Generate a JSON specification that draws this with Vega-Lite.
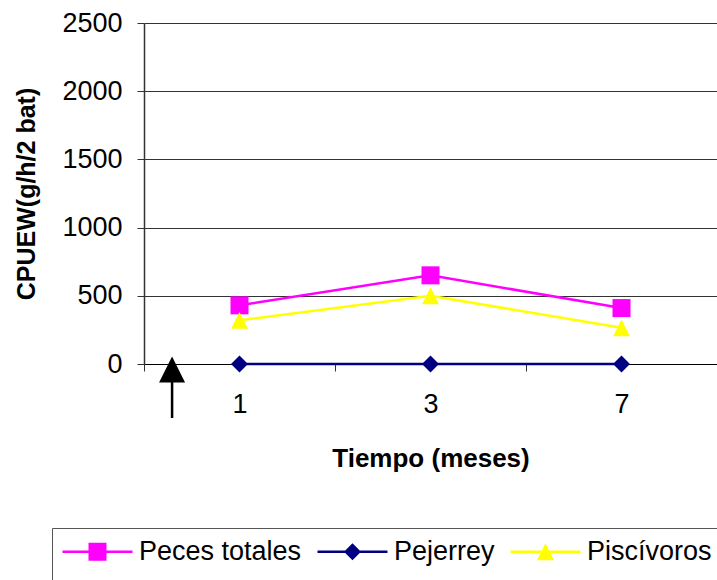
{
  "$schema": "https://vega.github.io/schema/vega-lite/v6.json",
  "width": 573,
  "height": 341,
  "autosize": {"type": "none"},
  "padding": {"left": 144, "top": 23, "right": 0, "bottom": 216},
  "background": "white",
  "config": {"view": {"stroke": null}, "font": "Liberation Sans"},
  "layer": [
    {
      "data": {
        "values": [
          {"mes": "1", "serie": "Peces totales", "cpuew": 430},
          {"mes": "3", "serie": "Peces totales", "cpuew": 650},
          {"mes": "7", "serie": "Peces totales", "cpuew": 410},
          {"mes": "1", "serie": "Pejerrey", "cpuew": 0},
          {"mes": "3", "serie": "Pejerrey", "cpuew": 0},
          {"mes": "7", "serie": "Pejerrey", "cpuew": 0},
          {"mes": "1", "serie": "Piscívoros", "cpuew": 320},
          {"mes": "3", "serie": "Piscívoros", "cpuew": 500},
          {"mes": "7", "serie": "Piscívoros", "cpuew": 265}
        ]
      },
      "encoding": {
        "x": {
          "field": "mes",
          "type": "nominal",
          "sort": ["1", "3", "7"],
          "scale": {"paddingInner": 0, "paddingOuter": 0},
          "axis": {
            "labelAngle": 0,
            "tickBand": "extent",
            "tickSize": 7,
            "tickColor": "#333",
            "domainColor": "#000",
            "labelFontSize": 27,
            "labelColor": "#000",
            "labelPadding": 20,
            "title": "Tiempo (meses)",
            "titleFontSize": 26,
            "titleFontWeight": "bold",
            "titleColor": "#000",
            "titlePadding": 28
          }
        },
        "y": {
          "field": "cpuew",
          "type": "quantitative",
          "scale": {"domain": [0, 2500], "nice": false},
          "axis": {
            "values": [0, 500, 1000, 1500, 2000, 2500],
            "format": "d",
            "grid": true,
            "gridColor": "#333",
            "gridWidth": 1,
            "domainColor": "#333",
            "domainWidth": 1.5,
            "tickColor": "#333",
            "tickSize": 7,
            "labelFontSize": 27,
            "labelColor": "#000",
            "labelPadding": 15,
            "labelFlush": false,
            "labelOverlap": false,
            "title": "CPUEW(g/h/2 bat)",
            "titleFontSize": 25,
            "titleFontWeight": "bold",
            "titleColor": "#000",
            "titlePadding": 22
          }
        },
        "color": {
          "field": "serie",
          "type": "nominal",
          "scale": {"domain": ["Peces totales", "Pejerrey", "Piscívoros"], "range": ["#FF00FF", "#000080", "#FFFF00"]},
          "legend": {
            "orient": "none",
            "legendX": -92,
            "legendY": 505,
            "direction": "horizontal",
            "columns": 3,
            "gridAlign": "each",
            "title": null,
            "padding": 10,
            "strokeColor": "#555",
            "labelFontSize": 27,
            "labelColor": "#000",
            "labelLimit": 400,
            "labelOffset": 50,
            "columnPadding": 15,
            "symbolSize": 324,
            "encode": {
              "symbols": {
                "update": {
                  "shape": {"signal": "datum.value === 'Peces totales' ? 'M-1.444,-0.139H6.333V0.139H-1.444Z M1.444,-1H3.444V1H1.444Z M2.4,7L2.4,7L2.4,7Z' : datum.value === 'Pejerrey' ? 'M-1.444,-0.139H6.333V0.139H-1.444Z M2.444,-0.944L3.389,0L2.444,0.944L1.5,0Z M2.4,7L2.4,7L2.4,7Z' : 'M-1.444,-0.139H6.333V0.139H-1.444Z M2.444,-0.944L3.389,0.944L1.5,0.944Z M2.4,7L2.4,7L2.4,7Z'"},
                  "fill": {"scale": "color", "field": "value"},
                  "stroke": {"value": "transparent"},
                  "strokeWidth": {"value": 0},
                  "size": {"value": 324},
                  "opacity": {"value": 1}
                }
              }
            }
          }
        }
      },
      "layer": [
        {"mark": {"type": "line", "strokeWidth": 2.5}},
        {
          "transform": [{"filter": "datum.serie === 'Peces totales'"}],
          "mark": {"type": "point", "shape": "M-1,-1H1V1H-1Z", "filled": true, "opacity": 1, "strokeWidth": 0, "size": 324}
        },
        {
          "transform": [{"filter": "datum.serie === 'Pejerrey'"}],
          "mark": {"type": "point", "shape": "M0,-0.94L0.94,0L0,0.94L-0.94,0Z", "filled": true, "opacity": 1, "strokeWidth": 0, "size": 324}
        },
        {
          "transform": [{"filter": "datum.serie === 'Piscívoros'"}],
          "mark": {"type": "point", "shape": "M0,-0.94L0.94,0.94L-0.94,0.94Z", "filled": true, "opacity": 1, "strokeWidth": 0, "size": 324}
        }
      ]
    },
    {
      "data": {"values": [{"pos": -0.353, "punta": -40, "cola": -396}]},
      "encoding": {
        "x": {"field": "pos", "type": "quantitative", "scale": {"domain": [-0.5, 2.5], "nice": false, "zero": false}, "axis": null}
      },
      "layer": [
        {
          "mark": {"type": "rule", "strokeWidth": 2.5, "color": "#000"},
          "encoding": {
            "y": {"field": "cola", "type": "quantitative", "scale": {"domain": [0, 2500], "nice": false}},
            "y2": {"field": "punta"}
          }
        },
        {
          "mark": {"type": "point", "shape": "M0,-1L1,1L-1,1Z", "filled": true, "color": "#000", "size": 676, "opacity": 1, "strokeWidth": 0},
          "encoding": {
            "y": {"field": "punta", "type": "quantitative", "scale": {"domain": [0, 2500], "nice": false}}
          }
        }
      ]
    }
  ],
  "resolve": {"scale": {"x": "independent"}}
}
